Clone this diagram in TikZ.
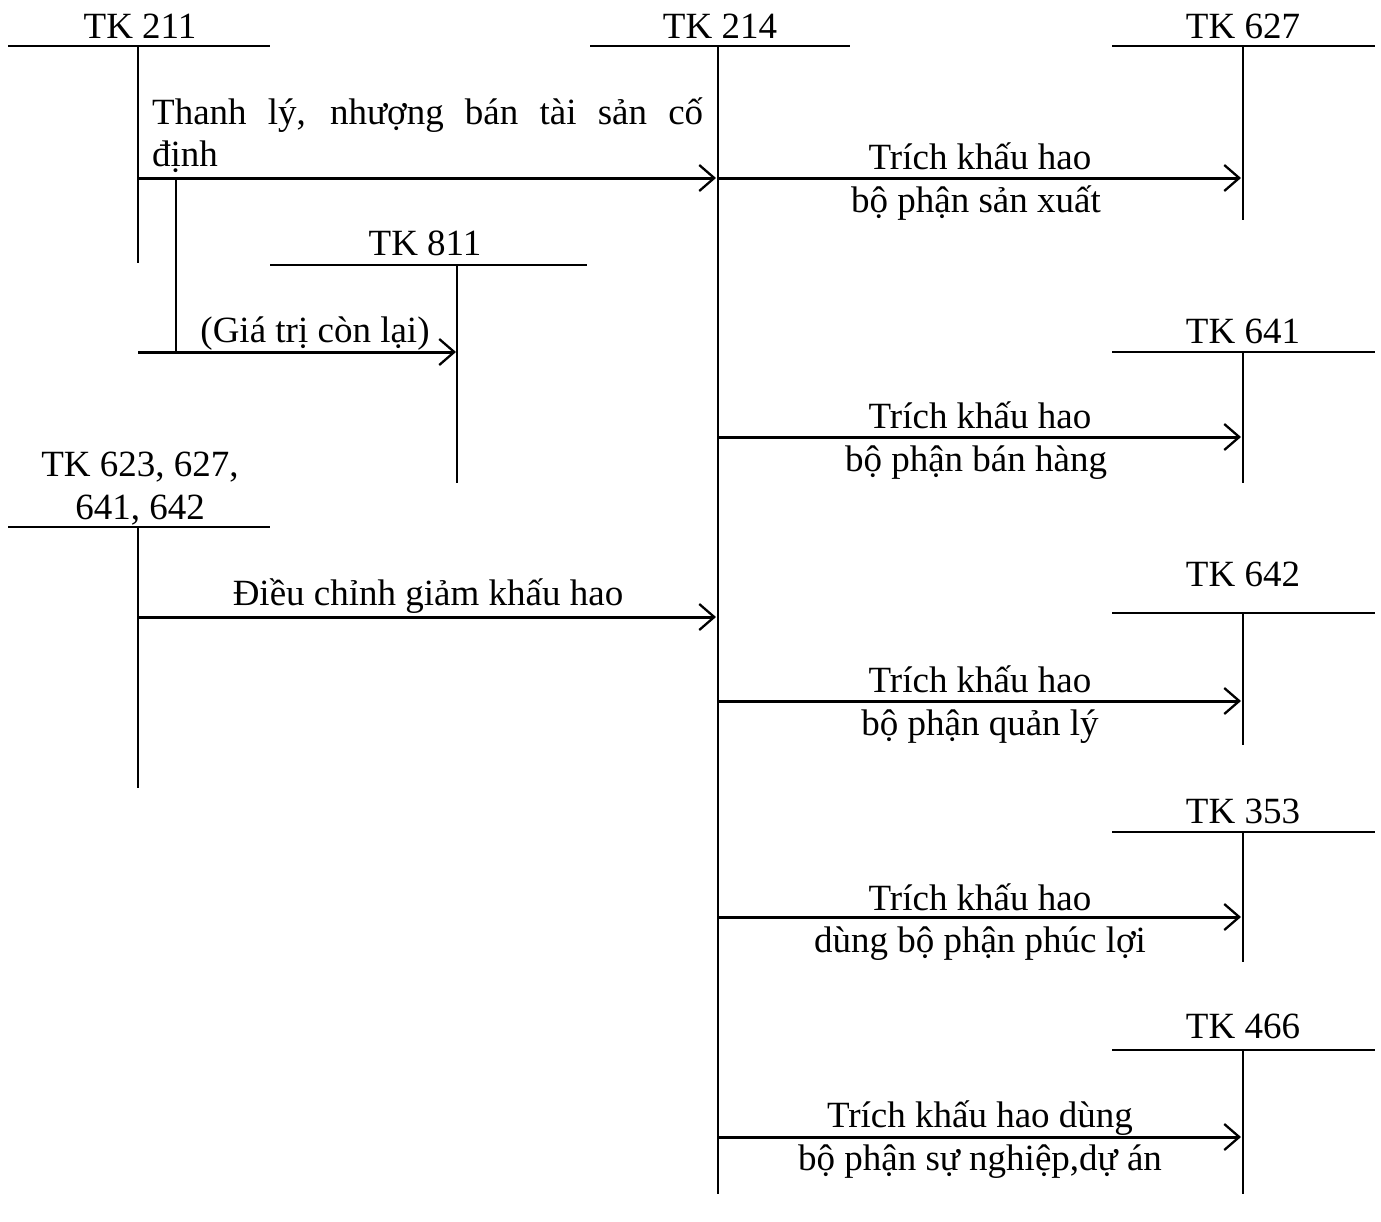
\documentclass[tikz,border=0pt]{standalone}
\usepackage{fontspec}
\setmainfont{Liberation Serif}
\usetikzlibrary{arrows.meta}
\begin{document}
\begin{tikzpicture}[x=1pt,y=-1pt,
  acc/.style={line width=2.3pt},
  flow/.style={line width=3pt,-{Straight Barb[length=15pt,width=26pt,line width=2.3pt]}},
  lbl/.style={font=\fontsize{37}{42}\selectfont, inner sep=0pt, anchor=base},
]
\useasboundingbox (0,0) rectangle (1381,1221);

% ---------- T-accounts ----------
% TK 211
\node[lbl] (n211) at (140,38) {TK 211};
\coordinate (h211l) at (8,46);   \coordinate (h211r) at (270,46);
\coordinate (v211t) at (138,46); \coordinate (v211b) at (138,263);
\draw[acc] (h211l) -- (h211r); \draw[acc] (v211t) -- (v211b);

% TK 214
\node[lbl] (n214) at (720,38) {TK 214};
\coordinate (h214l) at (590,46);  \coordinate (h214r) at (850,46);
\coordinate (v214t) at (718,46);  \coordinate (v214b) at (718,1194);
\draw[acc] (h214l) -- (h214r); \draw[acc] (v214t) -- (v214b);

% TK 627
\node[lbl] (n627) at (1243,38) {TK 627};
\coordinate (h627l) at (1112,46); \coordinate (h627r) at (1375,46);
\coordinate (v627t) at (1243,46); \coordinate (v627b) at (1243,220);
\draw[acc] (h627l) -- (h627r); \draw[acc] (v627t) -- (v627b);

% TK 811
\node[lbl] (n811) at (425,255) {TK 811};
\coordinate (h811l) at (270,265); \coordinate (h811r) at (587,265);
\coordinate (v811t) at (457,265); \coordinate (v811b) at (457,483);
\draw[acc] (h811l) -- (h811r); \draw[acc] (v811t) -- (v811b);

% TK 641
\node[lbl] (n641) at (1243,343) {TK 641};
\coordinate (h641l) at (1112,352); \coordinate (h641r) at (1375,352);
\coordinate (v641t) at (1243,352); \coordinate (v641b) at (1243,483);
\draw[acc] (h641l) -- (h641r); \draw[acc] (v641t) -- (v641b);

% TK 623, 627, 641, 642
\node[lbl] (n623a) at (140,476) {TK 623, 627,};
\node[lbl] (n623b) at (140,519) {641, 642};
\coordinate (h623l) at (8,527);   \coordinate (h623r) at (270,527);
\coordinate (v623t) at (138,527); \coordinate (v623b) at (138,788);
\draw[acc] (h623l) -- (h623r); \draw[acc] (v623t) -- (v623b);

% TK 642
\node[lbl] (n642) at (1243,586) {TK 642};
\coordinate (h642l) at (1112,613); \coordinate (h642r) at (1375,613);
\coordinate (v642t) at (1243,613); \coordinate (v642b) at (1243,745);
\draw[acc] (h642l) -- (h642r); \draw[acc] (v642t) -- (v642b);

% TK 353
\node[lbl] (n353) at (1243,823) {TK 353};
\coordinate (h353l) at (1112,832); \coordinate (h353r) at (1375,832);
\coordinate (v353t) at (1243,832); \coordinate (v353b) at (1243,962);
\draw[acc] (h353l) -- (h353r); \draw[acc] (v353t) -- (v353b);

% TK 466
\node[lbl] (n466) at (1243,1038) {TK 466};
\coordinate (h466l) at (1112,1050); \coordinate (h466r) at (1375,1050);
\coordinate (v466t) at (1243,1050); \coordinate (v466b) at (1243,1194);
\draw[acc] (h466l) -- (h466r); \draw[acc] (v466t) -- (v466b);

% ---------- flows ----------
% 211 -> 214
\coordinate (f1s) at (138,178); \coordinate (f1e) at (716,178);
\draw[flow] (f1s) -- (f1e);
\node[lbl, anchor=base west] (l1a) at (152,124) {\makebox[551pt][s]{Thanh lý, nhượng bán tài sản cố}};
\node[lbl, anchor=base west] (l1b) at (152,166) {định};

% branch to 811
\coordinate (brt) at (176,178); \coordinate (brb) at (176,352);
\draw[acc] (brt) -- (brb);
\coordinate (f2s) at (138,352); \coordinate (f2e) at (456,352);
\draw[flow] (f2s) -- (f2e);
\node[lbl] (l2) at (315,342) {(Giá trị còn lại)};

% 623... -> 214
\coordinate (f3s) at (138,617); \coordinate (f3e) at (716,617);
\draw[flow] (f3s) -- (f3e);
\node[lbl] (l3) at (428,605) {Điều chỉnh giảm khấu hao};

% 214 -> 627
\coordinate (r1s) at (718,178); \coordinate (r1e) at (1241,178);
\draw[flow] (r1s) -- (r1e);
\node[lbl] (r1a) at (980,169) {Trích khấu hao};
\node[lbl] (r1b) at (976,212) {bộ phận sản xuất};

% 214 -> 641
\coordinate (r2s) at (718,437); \coordinate (r2e) at (1241,437);
\draw[flow] (r2s) -- (r2e);
\node[lbl] (r2a) at (980,428) {Trích khấu hao};
\node[lbl] (r2b) at (976,471) {bộ phận bán hàng};

% 214 -> 642
\coordinate (r3s) at (718,701); \coordinate (r3e) at (1241,701);
\draw[flow] (r3s) -- (r3e);
\node[lbl] (r3a) at (980,692) {Trích khấu hao};
\node[lbl] (r3b) at (980,735) {bộ phận quản lý};

% 214 -> 353
\coordinate (r4s) at (718,917); \coordinate (r4e) at (1241,917);
\draw[flow] (r4s) -- (r4e);
\node[lbl] (r4a) at (980,910) {Trích khấu hao};
\node[lbl] (r4b) at (980,952) {dùng bộ phận phúc lợi};

% 214 -> 466
\coordinate (r5s) at (718,1137); \coordinate (r5e) at (1241,1137);
\draw[flow] (r5s) -- (r5e);
\node[lbl] (r5a) at (980,1127) {Trích khấu hao dùng};
\node[lbl] (r5b) at (980,1170) {bộ phận sự nghiệp,dự án};
\end{tikzpicture}
\end{document}
